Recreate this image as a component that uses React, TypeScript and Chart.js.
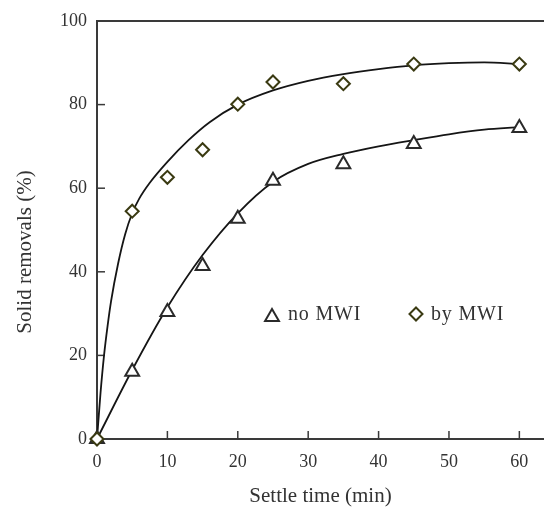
import React, { useEffect, useRef } from "react";
import { Chart, registerables } from "chart.js";

Chart.register(...registerables);

// ---- data ----
const xTickValues = [0, 10, 20, 30, 40, 50, 60];
const yTickValues = [0, 20, 40, 60, 80, 100];

const settleTimes = [0, 5, 10, 15, 20, 25, 35, 45, 60];
const removalNoMWI = [0, 16.1, 30.4, 41.4, 52.7, 61.8, 65.7, 70.6, 74.4];
const removalByMWI = [0, 54.5, 62.6, 69.2, 80.1, 85.4, 85.0, 89.7, 89.7];

// fitted curves
const fitTimesBy = [0, 0.5, 1, 1.5, 2, 3, 4, 5, 6, 7.5, 10, 13, 16, 20, 25, 30, 35, 40, 45, 50, 55, 60];
const fitByMWI = [0, 11, 20, 27, 33, 42, 49, 54, 57.5, 61.3, 66.3, 71.5, 75.8, 80, 83.4, 85.7, 87.3, 88.5, 89.4, 89.9, 90.1, 89.7];
const fitTimesNo = [0, 5, 10, 15, 20, 25, 30, 35, 40, 45, 50, 55, 60];
const fitNoMWI = [0, 16.5, 31.5, 44, 54, 61.5, 65.8, 68.2, 70, 71.5, 72.9, 74, 74.6];

const legendLabels = ["no MWI", "by MWI"];
const xTitle = "Settle time (min)";
const yTitle = "Solid removals (%)";

const FONT = "'Liberation Serif', 'Times New Roman', serif";
const AXIS = "#3a3a3a";
const TEXT = "#333333";
const DIAMOND = "#3a3a12";
const TRI = "#2a2a2a";

function toXY(xs: number[], ys: number[]) {
  return xs.map((x, i) => ({ x, y: ys[i] }));
}

function drawTriangle(ctx: CanvasRenderingContext2D, cx: number, cy: number, r: number) {
  ctx.beginPath();
  for (let k = 0; k < 3; k++) {
    const a = -Math.PI / 2 + (k * 2 * Math.PI) / 3;
    const px = cx + Math.cos(a) * r;
    const py = cy + Math.sin(a) * r;
    if (k === 0) ctx.moveTo(px, py);
    else ctx.lineTo(px, py);
  }
  ctx.closePath();
}

function drawDiamond(ctx: CanvasRenderingContext2D, cx: number, cy: number, r: number) {
  ctx.beginPath();
  ctx.moveTo(cx, cy - r);
  ctx.lineTo(cx + r, cy);
  ctx.lineTo(cx, cy + r);
  ctx.lineTo(cx - r, cy);
  ctx.closePath();
}

const framePlugin = {
  id: "frame",
  beforeDatasetsDraw(chart: any) {
    const { ctx, chartArea, scales } = chart;
    const x = scales.x;
    const y = scales.y;
    ctx.save();
    ctx.strokeStyle = AXIS;
    ctx.lineWidth = 2;
    ctx.beginPath();
    ctx.moveTo(chartArea.left - 1, chartArea.top);
    ctx.lineTo(chart.width, chartArea.top);
    ctx.stroke();
    ctx.beginPath();
    ctx.moveTo(chartArea.left - 1, chartArea.bottom);
    ctx.lineTo(chart.width, chartArea.bottom);
    ctx.stroke();
    ctx.lineWidth = 1.5;
    xTickValues.forEach((v) => {
      if (v === 0) return;
      const px = x.getPixelForValue(v);
      ctx.beginPath();
      ctx.moveTo(px, chartArea.bottom);
      ctx.lineTo(px, chartArea.bottom - 8);
      ctx.stroke();
    });
    yTickValues.forEach((v) => {
      if (v === 0 || v === 100) return;
      const py = y.getPixelForValue(v);
      ctx.beginPath();
      ctx.moveTo(chartArea.left, py);
      ctx.lineTo(chartArea.left + 8, py);
      ctx.stroke();
    });
    ctx.restore();
  },
  afterDraw(chart: any) {
    const { ctx } = chart;
    ctx.save();
    // y title
    ctx.fillStyle = TEXT;
    ctx.font = `21px ${FONT}`;
    ctx.textAlign = "center";
    ctx.textBaseline = "middle";
    ctx.translate(25, 252);
    ctx.rotate(-Math.PI / 2);
    ctx.fillText(yTitle, 0, 0);
    ctx.restore();

    // legend
    ctx.save();
    ctx.lineWidth = 2;
    ctx.fillStyle = "#ffffff";
    ctx.strokeStyle = TRI;
    drawTriangle(ctx, 272, 317, 8);
    ctx.fill();
    ctx.stroke();
    ctx.strokeStyle = DIAMOND;
    drawDiamond(ctx, 416, 314, 6.5);
    ctx.fill();
    ctx.stroke();
    ctx.fillStyle = TEXT;
    ctx.font = `20px ${FONT}`;
    ctx.textAlign = "left";
    ctx.textBaseline = "middle";
    try {
      (ctx as any).letterSpacing = "0.8px";
    } catch (e) {}
    ctx.fillText(legendLabels[0], 288, 315);
    ctx.fillText(legendLabels[1], 431, 315);
    ctx.restore();
  },
};

export default function App() {
  const canvasRef = useRef<HTMLCanvasElement | null>(null);

  useEffect(() => {
    const canvas = canvasRef.current;
    if (!canvas) return;
    Chart.defaults.font.family = FONT;
    const chart = new Chart(canvas, {
      type: "scatter",
      data: {
        datasets: [
          {
            label: legendLabels[1],
            data: toXY(settleTimes, removalByMWI),
            pointStyle: "rectRot",
            pointRadius: 6.5,
            pointBorderWidth: 2,
            borderColor: DIAMOND,
            backgroundColor: "#ffffff",
            showLine: false,
            clip: false,
            order: 0,
          },
          {
            label: legendLabels[0],
            data: toXY(settleTimes, removalNoMWI),
            pointStyle: "triangle",
            pointRadius: 8,
            pointBorderWidth: 2,
            borderColor: TRI,
            backgroundColor: "#ffffff",
            showLine: false,
            clip: false,
            order: 0,
          },
          {
            label: "fit by",
            data: toXY(fitTimesBy, fitByMWI),
            showLine: true,
            pointRadius: 0,
            borderColor: "#151515",
            borderWidth: 1.8,
            cubicInterpolationMode: "monotone",
            order: 1,
          },
          {
            label: "fit no",
            data: toXY(fitTimesNo, fitNoMWI),
            showLine: true,
            pointRadius: 0,
            borderColor: "#151515",
            borderWidth: 1.8,
            cubicInterpolationMode: "monotone",
            order: 1,
          },
        ],
      } as any,
      options: {
        responsive: false,
        animation: false,
        layout: { autoPadding: false, padding: { top: 21, right: 0, left: 0, bottom: 0 } },
        plugins: { legend: { display: false }, tooltip: { enabled: false } },
        events: [],
        scales: {
          x: {
            type: "linear",
            min: 0,
            max: 63.5,
            grid: { display: false, drawTicks: false, tickLength: 0 },
            border: { display: true, color: AXIS, width: 2 },
            afterBuildTicks: (scale: any) => {
              scale.ticks = xTickValues.map((v) => ({ value: v }));
            },
            afterFit: (scale: any) => {
              scale.height = 70;
              scale.paddingLeft = 0;
              scale.paddingRight = 0;
            },
            ticks: {
              padding: 12,
              color: TEXT,
              font: { size: 18, family: FONT },
              maxRotation: 0,
            },
            title: {
              display: true,
              text: xTitle,
              color: TEXT,
              font: { size: 21, family: FONT },
              padding: { top: 0, bottom: 0 },
            },
          },
          y: {
            type: "linear",
            min: 0,
            max: 100,
            grid: { display: false, drawTicks: false, tickLength: 0 },
            border: { display: true, color: AXIS, width: 2 },
            afterBuildTicks: (scale: any) => {
              scale.ticks = yTickValues.map((v) => ({ value: v }));
            },
            afterFit: (scale: any) => {
              scale.width = 97;
              scale.paddingTop = 0;
              scale.paddingBottom = 0;
            },
            ticks: {
              padding: 10,
              color: TEXT,
              font: { size: 18, family: FONT },
            },
          },
        },
      } as any,
      plugins: [framePlugin],
    });
    return () => chart.destroy();
  }, []);

  return (
    <div style={{ position: "absolute", left: 0, top: 0, width: 544, height: 509, background: "#fff" }}>
      <canvas ref={canvasRef} width={544} height={509} style={{ width: 544, height: 509, display: "block" }} />
    </div>
  );
}
